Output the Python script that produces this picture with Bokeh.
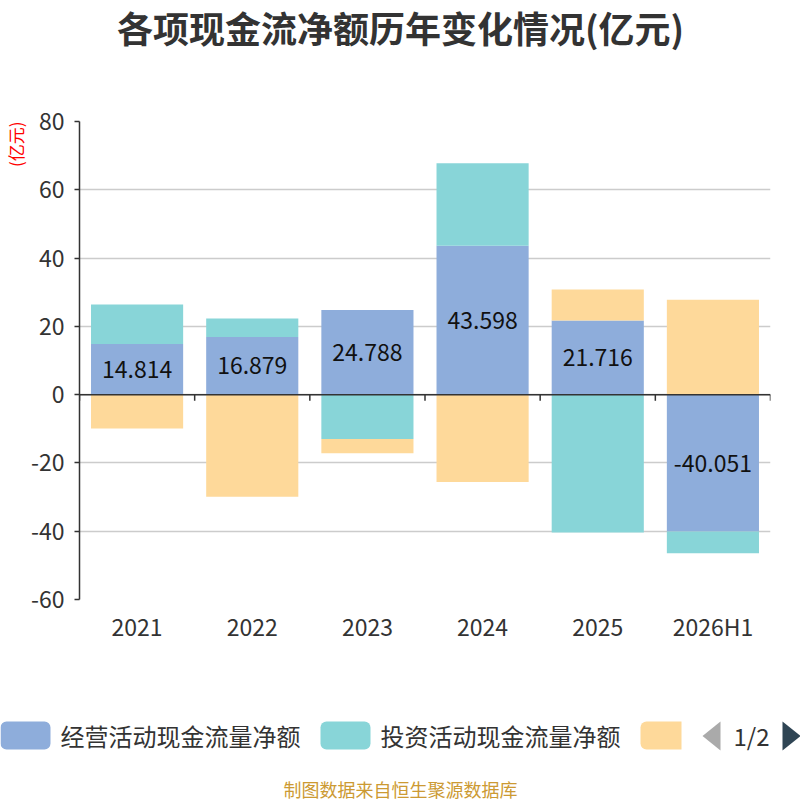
from bokeh.plotting import figure
from bokeh.models import (FactorRange, Range1d, FixedTicker, Span, Title, ColumnDataSource)
from bokeh.layouts import column
from bokeh.core.properties import value
from bokeh.embed import file_html
from bokeh.resources import INLINE

# ---------------- data ----------------
categories = ["2021", "2022", "2023", "2024", "2025", "2026H1"]
operating = [14.814, 16.879, 24.788, 43.598, 21.716, -40.051]
investing = [11.6, 5.4, -13.0, 24.2, -40.4, -6.4]
financing = [-9.9, -29.9, -4.2, -25.6, 9.1, 27.8]
series_names = ["经营活动现金流量净额", "投资活动现金流量净额", "筹资活动现金流量净额"]
series_colors = ["#8EADDB", "#88D5D8", "#FED99A"]
y_ticks = [-60, -40, -20, 0, 20, 40, 60, 80]
title_text = "各项现金流净额历年变化情况(亿元)"
unit_text = "(亿元)"
footer_text = "制图数据来自恒生聚源数据库"
pager_text = "1/2"

FONT = value("Noto Sans CJK SC")
W = 800
H_TOP = 100
H_MAIN = 565
H_LEG = 800 - H_TOP - H_MAIN


def blank_fig(h):
    f = figure(width=W, height=h, x_range=Range1d(0, W), y_range=Range1d(h, 0),
               output_backend="svg", toolbar_location=None,
               x_axis_location=None, y_axis_location=None,
               min_border_left=0, min_border_right=0, min_border_top=0, min_border_bottom=0,
               frame_align=False)
    f.grid.visible = False
    f.outline_line_color = None
    return f


# ---------------- title ----------------
t = blank_fig(H_TOP)
t.text(x=[400], y=[26], text=[title_text], text_align="center", text_baseline="middle",
       text_font=FONT, text_font_size="36px", text_font_style="bold", text_color="#333333")

# ---------------- main chart ----------------
p = figure(width=W, height=H_MAIN, x_range=FactorRange(*categories),
           y_range=Range1d(-60, 80), output_backend="svg", toolbar_location=None,
           min_border_left=78, min_border_right=30, min_border_top=21, min_border_bottom=66,
           frame_align=False)
p.outline_line_color = None

n = len(categories)
pos_base = [0.0] * n
neg_base = [0.0] * n
for vals, color in zip([operating, investing, financing], series_colors):
    bottoms, tops = [], []
    for i, v in enumerate(vals):
        if v >= 0:
            b = pos_base[i]; tp = b + v; pos_base[i] = tp
        else:
            b = neg_base[i]; tp = b + v; neg_base[i] = tp
        bottoms.append(b); tops.append(tp)
    src = ColumnDataSource(dict(x=categories, bottom=bottoms, top=tops))
    p.vbar(x="x", bottom="bottom", top="top", width=0.8, source=src,
           fill_color=color, line_color=None)

lab_src = ColumnDataSource(dict(x=categories, y=[v / 2 for v in operating],
                                t=["%.3f" % v for v in operating]))
p.text(x="x", y="y", text="t", source=lab_src, text_align="center", text_baseline="middle",
       text_font=FONT, text_font_size="23px", text_color="#111111")

# zero axis line with ticks at category boundaries
p.add_layout(Span(location=0, dimension="width", line_color="#333333", line_width=1.5))
bounds = list(range(0, n + 1))
p.segment(x0=bounds, x1=bounds, y0=[0] * len(bounds), y1=[-1.8] * len(bounds),
          line_color="#333333", line_width=1.5)

p.yaxis.ticker = FixedTicker(ticks=y_ticks)
p.yaxis.major_label_overrides = {v: str(v) for v in y_ticks}
p.yaxis.axis_line_color = "#333333"
p.yaxis.axis_line_width = 1.5
p.yaxis.major_tick_line_color = "#333333"
p.yaxis.major_tick_line_width = 1.5
p.yaxis.major_tick_out = 5
p.yaxis.major_tick_in = 0
p.yaxis.minor_tick_line_color = None
p.yaxis.major_label_text_font = "Noto Sans CJK SC"
p.yaxis.major_label_text_font_size = "23px"
p.yaxis.major_label_text_color = "#333333"
p.yaxis.major_label_standoff = 10

p.xaxis.axis_line_color = None
p.xaxis.major_tick_line_color = None
p.xaxis.minor_tick_line_color = None
p.xaxis.major_label_text_font = "Noto Sans CJK SC"
p.xaxis.major_label_text_font_size = "23px"
p.xaxis.major_label_text_color = "#333333"
p.xaxis.major_label_standoff = 3

p.xgrid.grid_line_color = None
p.ygrid.grid_line_color = "#CCCCCC"
p.ygrid.grid_line_width = 1.5
p.ygrid.ticker = FixedTicker(ticks=y_ticks)

p.add_layout(Title(text=unit_text, align="right", standoff=0, text_font="Noto Sans CJK SC",
                   text_font_size="17px", text_font_style="normal", text_color="#FF0000"), "left")

# ---------------- legend + footer ----------------
q = blank_fig(H_LEG)
box_l = [0, 320, 640]
box_r = [50, 370, 681]
box_t, box_b = 56, 84
for i in range(3):
    br = 6 if i < 2 else (6, 0, 0, 6)
    q.quad(left=[box_l[i]], right=[box_r[i]], top=[box_t], bottom=[box_b],
           fill_color=series_colors[i], line_color=None, border_radius=br)
q.text(x=[60, 380], y=[70, 70], text=series_names[:2], text_align="left", text_baseline="middle",
       text_font=FONT, text_font_size="24px", text_color="#333333")
q.patch(x=[720, 720, 702], y=[56, 85, 70.5], fill_color="#AAAAAA", line_color=None)
q.patch(x=[782, 782, 800], y=[56, 85, 70.5], fill_color="#2F4554", line_color=None)
q.text(x=[751], y=[70], text=[pager_text], text_align="center", text_baseline="middle",
       text_font=FONT, text_font_size="24px", text_color="#333333")
q.text(x=[400], y=[123], text=[footer_text], text_align="center", text_baseline="middle",
       text_font=FONT, text_font_size="18px", text_color="#CC9A33")

layout = column(t, p, q, spacing=0)
open("out.html", "w").write(file_html(layout, INLINE))
